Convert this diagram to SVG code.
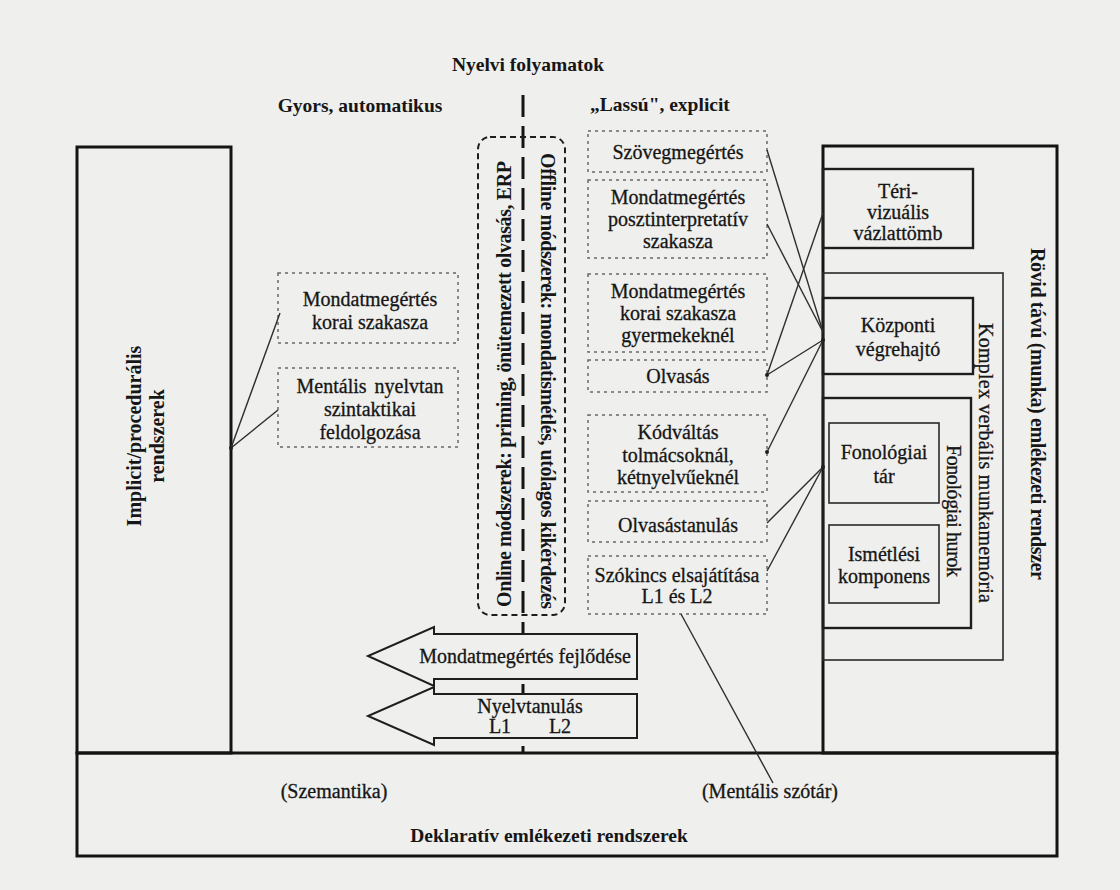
<svg xmlns="http://www.w3.org/2000/svg" width="1120" height="890" viewBox="0 0 1120 890">
<defs>
<style>
.t{font-family:"Liberation Serif","Times New Roman",serif;fill:#161616;font-size:20px;text-anchor:middle;stroke:#161616;stroke-width:0.3}
.b{font-weight:bold;stroke-width:0}
.h{font-size:19.5px}
.frame{fill:none;stroke:#141414;stroke-width:3}
.ibox{fill:none;stroke:#1e1e1e;stroke-width:2.4}
.sbox{fill:none;stroke:#2a2a2a;stroke-width:1.6}
.dbox{fill:none;stroke:#6a6a6a;stroke-width:1.5;stroke-dasharray:3 4}
.con{stroke:#2e2e2e;stroke-width:1.4;fill:none}
.dot{fill:#1e1e1e}
.arrow{fill:#efefed;stroke:#1e1e1e;stroke-width:2}
</style>
</defs>
<rect x="0" y="0" width="1120" height="890" fill="#efefed"/>

<g id="headers">
<text class="t b h" x="528" y="71">Nyelvi folyamatok</text>
<text class="t b h" x="360" y="112">Gyors, automatikus</text>
<text class="t b h" x="660" y="111">„Lassú", explicit</text>
</g>

<g id="divider">
<line x1="523" y1="95" x2="523" y2="753" stroke="#141414" stroke-width="3" stroke-dasharray="22 9"/>
</g>

<g id="implicit">
<rect class="frame" x="77" y="147" width="154" height="606"/>
<text class="t b" font-size="18.5" transform="translate(141,436) rotate(-90)"><tspan x="0" y="0">Implicit/procedurális</tspan><tspan x="0" y="23">rendszerek</tspan></text>
</g>

<g id="deklarativ">
<rect class="frame" x="77" y="753" width="980" height="103"/>
<text class="t" x="334" y="798">(Szemantika)</text>
<text class="t" x="770" y="798">(Mentális szótár)</text>
<text class="t b h" x="549" y="842">Deklaratív emlékezeti rendszerek</text>
</g>

<g id="rovid-tavu">
<rect class="frame" x="823" y="146" width="234" height="607"/>
<text class="t b" font-size="18.5" transform="translate(1031,414) rotate(90)" textLength="332">Rövid távú (munka) emlékezeti rendszer</text>
</g>

<g id="teri-vizualis">
<rect class="ibox" x="823" y="169" width="150" height="79"/>
<text class="t"><tspan x="898" y="198">Téri-</tspan><tspan x="898" y="219">vizuális</tspan><tspan x="898" y="240">vázlattömb</tspan></text>
</g>

<g id="komplex">
<rect class="sbox" x="823" y="273" width="180" height="387"/>
<text class="t" transform="translate(979,463) rotate(90)" textLength="280">Komplex verbális munkamemória</text>
</g>

<g id="kozponti">
<rect class="ibox" x="823" y="298" width="150" height="76"/>
<text class="t"><tspan x="898" y="332">Központi</tspan><tspan x="898" y="356">végrehajtó</tspan></text>
</g>

<g id="fonologiai-hurok">
<rect class="ibox" x="823" y="398" width="148" height="230"/>
<text class="t" transform="translate(947,511) rotate(90)" textLength="132">Fonológiai hurok</text>
</g>

<g id="fonologiai-tar">
<rect class="sbox" x="829" y="423" width="110" height="80"/>
<text class="t"><tspan x="884" y="459">Fonológiai</tspan><tspan x="884" y="483">tár</tspan></text>
</g>

<g id="ismetlesi">
<rect class="sbox" x="829" y="525" width="110" height="78"/>
<text class="t"><tspan x="884" y="561">Ismétlési</tspan><tspan x="884" y="583">komponens</tspan></text>
</g>

<g id="online-offline">
<rect x="478" y="137" width="87" height="478" rx="12" fill="none" stroke="#1e1e1e" stroke-width="2" stroke-dasharray="6 4"/>
<text class="t b" font-size="17.5" transform="translate(511,384) rotate(-90)" textLength="446">Online módszerek: priming, önütemezett olvasás, ERP</text>
<text class="t b" font-size="17.5" transform="translate(541,381) rotate(90)" textLength="456">Offline módszerek: mondatismétlés, utólagos kikérdezés</text>
</g>

<g id="mondat-korai">
<rect class="dbox" x="278" y="273" width="180" height="70"/>
<text class="t" font-size="21"><tspan x="370" y="306">Mondatmegértés</tspan><tspan x="370" y="329">korai szakasza</tspan></text>
</g>

<g id="mentalis-nyelvtan">
<rect class="dbox" x="278" y="368" width="180" height="79"/>
<text class="t" font-size="21"><tspan x="370" y="393" word-spacing="3">Mentális nyelvtan</tspan><tspan x="370" y="416">szintaktikai</tspan><tspan x="370" y="439">feldolgozása</tspan></text>
</g>

<g id="szovegmegertes">
<rect class="dbox" x="588" y="131" width="179" height="41"/>
<text class="t" x="678" y="159">Szövegmegértés</text>
</g>

<g id="poszt">
<rect class="dbox" x="588" y="180" width="179" height="78"/>
<text class="t"><tspan x="678" y="204">Mondatmegértés</tspan><tspan x="678" y="226">posztinterpretatív</tspan><tspan x="678" y="248">szakasza</tspan></text>
</g>

<g id="gyermek">
<rect class="dbox" x="588" y="274" width="179" height="78"/>
<text class="t"><tspan x="678" y="298">Mondatmegértés</tspan><tspan x="678" y="320">korai szakasza</tspan><tspan x="678" y="342">gyermekeknél</tspan></text>
</g>

<g id="olvasas">
<rect class="dbox" x="588" y="360" width="179" height="32"/>
<text class="t" x="678" y="383">Olvasás</text>
</g>

<g id="kodvaltas">
<rect class="dbox" x="588" y="415" width="179" height="77"/>
<text class="t"><tspan x="678" y="439">Kódváltás</tspan><tspan x="678" y="462">tolmácsoknál,</tspan><tspan x="678" y="484">kétnyelvűeknél</tspan></text>
</g>

<g id="olvasastanulas">
<rect class="dbox" x="588" y="501" width="179" height="41"/>
<text class="t" x="678" y="532">Olvasástanulás</text>
</g>

<g id="szokincs">
<rect class="dbox" x="588" y="556" width="179" height="58"/>
<text class="t"><tspan x="677" y="582">Szókincs elsajátítása</tspan><tspan x="677" y="603">L1 és L2</tspan></text>
</g>

<g id="arrow-mondat">
<polygon class="arrow" points="637,634 434,634 434,627 368,656 434,686 434,679 637,679"/>
<text class="t" x="525" y="663">Mondatmegértés fejlődése</text>
</g>

<g id="arrow-nyelvtanulas">
<polygon class="arrow" points="637,694 434,694 434,687 368,716 434,745 434,738 637,738"/>
<text class="t"><tspan x="530" y="713">Nyelvtanulás</tspan><tspan x="500" y="733">L1</tspan><tspan x="560" y="733">L2</tspan></text>
</g>

<g id="connectors">
<line class="con" x1="280" y1="313" x2="231" y2="448"/>
<line class="con" x1="278" y1="410" x2="231" y2="448"/>
<line class="con" x1="767" y1="150" x2="823" y2="332"/>
<line class="con" x1="767" y1="224" x2="823" y2="332"/>
<line class="con" x1="823" y1="213" x2="767" y2="375"/>
<line class="con" x1="823" y1="340" x2="767" y2="375"/>
<line class="con" x1="823" y1="340" x2="767" y2="452"/>
<line class="con" x1="823" y1="467" x2="767" y2="523"/>
<line class="con" x1="823" y1="467" x2="767" y2="571"/>
<line class="con" x1="681" y1="614" x2="773" y2="783"/>
<circle class="dot" cx="231" cy="448" r="2"/>
<circle class="dot" cx="767" cy="375" r="2"/>
<circle class="dot" cx="767" cy="452" r="2"/>
<circle class="dot" cx="823" cy="340" r="2"/>
<circle class="dot" cx="823" cy="467" r="2"/>
</g>
</svg>
